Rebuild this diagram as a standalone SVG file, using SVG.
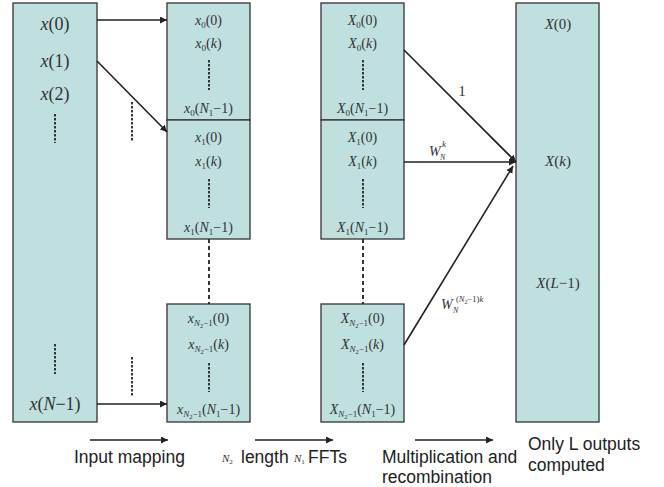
<svg xmlns="http://www.w3.org/2000/svg" width="664" height="487" viewBox="0 0 664 487">
<style>
.box{fill:#bfe0df;stroke:#333;stroke-width:1.3}
.ln{stroke:#222;stroke-width:1.6;fill:none}
.dsh{stroke:#222;stroke-width:1.8;stroke-dasharray:2.5 1.5;fill:none}
.dsh2{stroke:#222;stroke-width:1.8;stroke-dasharray:4 3;fill:none}
.m{font-family:"Liberation Serif",serif;font-size:14px;fill:#333;text-anchor:middle}
.big{font-size:18px}
.i{font-style:italic}
.s{font-size:9px}
.ss{font-size:6.5px}
.lab{font-family:"Liberation Sans",Arial,sans-serif;font-size:17.5px;fill:#222}
</style>
<defs>
<marker id="ah" viewBox="0 0 10 10" refX="10" refY="5" markerWidth="7" markerHeight="7" orient="auto" markerUnits="userSpaceOnUse">
<path d="M0,0 L10,5 L0,10 z" fill="#222"/>
</marker>
</defs>

<g id="input">
<rect class="box" x="13" y="3" width="84" height="419"/>
<text class="m big" x="55" y="30"><tspan class="i">x</tspan>(0)</text>
<text class="m big" x="55" y="67"><tspan class="i">x</tspan>(1)</text>
<text class="m big" x="55" y="100"><tspan class="i">x</tspan>(2)</text>
<line class="dsh" x1="55" y1="114" x2="55" y2="143"/>
<line class="dsh" x1="55" y1="344" x2="55" y2="374"/>
<text class="m big" x="55" y="410"><tspan class="i">x</tspan>(<tspan class="i">N</tspan>−1)</text>
</g>

<g id="map0">
<rect class="box" x="167" y="3" width="83" height="117"/>
<text class="m" x="208.5" y="25"><tspan class="i">x</tspan><tspan class="s" dy="3">0</tspan><tspan dy="-3">(0)</tspan></text>
<text class="m" x="208.5" y="48"><tspan class="i">x</tspan><tspan class="s" dy="3">0</tspan><tspan dy="-3">(</tspan><tspan class="i">k</tspan>)</text>
<line class="dsh" x1="209" y1="60" x2="209" y2="90"/>
<text class="m" x="208.5" y="113"><tspan class="i">x</tspan><tspan class="s" dy="3">0</tspan><tspan dy="-3">(</tspan><tspan class="i">N</tspan><tspan class="s" dy="3">1</tspan><tspan dy="-3">−1)</tspan></text>
</g>
<g id="map1">
<rect class="box" x="167" y="120" width="83" height="119"/>
<text class="m" x="208.5" y="142"><tspan class="i">x</tspan><tspan class="s" dy="3">1</tspan><tspan dy="-3">(0)</tspan></text>
<text class="m" x="208.5" y="166"><tspan class="i">x</tspan><tspan class="s" dy="3">1</tspan><tspan dy="-3">(</tspan><tspan class="i">k</tspan>)</text>
<line class="dsh" x1="209" y1="179" x2="209" y2="208"/>
<text class="m" x="208.5" y="232"><tspan class="i">x</tspan><tspan class="s" dy="3">1</tspan><tspan dy="-3">(</tspan><tspan class="i">N</tspan><tspan class="s" dy="3">1</tspan><tspan dy="-3">−1)</tspan></text>
</g>
<g id="mapN">
<rect class="box" x="167" y="304" width="83" height="118"/>
<text class="m" x="208.5" y="323"><tspan class="i">x</tspan><tspan class="s i" dy="3">N</tspan><tspan class="ss" dy="2">2</tspan><tspan class="s" dy="-2">−1</tspan><tspan dy="-3">(0)</tspan></text>
<text class="m" x="208.5" y="349"><tspan class="i">x</tspan><tspan class="s i" dy="3">N</tspan><tspan class="ss" dy="2">2</tspan><tspan class="s" dy="-2">−1</tspan><tspan dy="-3">(</tspan><tspan class="i">k</tspan>)</text>
<line class="dsh" x1="209" y1="363" x2="209" y2="392"/>
<text class="m" x="208.5" y="414"><tspan class="i">x</tspan><tspan class="s i" dy="3">N</tspan><tspan class="ss" dy="2">2</tspan><tspan class="s" dy="-2">−1</tspan><tspan dy="-3">(</tspan><tspan class="i">N</tspan><tspan class="s" dy="3">1</tspan><tspan dy="-3">−1)</tspan></text>
</g>

<g id="fft0">
<rect class="box" x="321" y="3" width="83" height="117"/>
<text class="m" x="362.5" y="25"><tspan class="i">X</tspan><tspan class="s" dy="3">0</tspan><tspan dy="-3">(0)</tspan></text>
<text class="m" x="362.5" y="48"><tspan class="i">X</tspan><tspan class="s" dy="3">0</tspan><tspan dy="-3">(</tspan><tspan class="i">k</tspan>)</text>
<line class="dsh" x1="363" y1="60" x2="363" y2="90"/>
<text class="m" x="362.5" y="113"><tspan class="i">X</tspan><tspan class="s" dy="3">0</tspan><tspan dy="-3">(</tspan><tspan class="i">N</tspan><tspan class="s" dy="3">1</tspan><tspan dy="-3">−1)</tspan></text>
</g>
<g id="fft1">
<rect class="box" x="321" y="120" width="83" height="119"/>
<text class="m" x="362.5" y="142"><tspan class="i">X</tspan><tspan class="s" dy="3">1</tspan><tspan dy="-3">(0)</tspan></text>
<text class="m" x="362.5" y="166"><tspan class="i">X</tspan><tspan class="s" dy="3">1</tspan><tspan dy="-3">(</tspan><tspan class="i">k</tspan>)</text>
<line class="dsh" x1="363" y1="179" x2="363" y2="208"/>
<text class="m" x="362.5" y="232"><tspan class="i">X</tspan><tspan class="s" dy="3">1</tspan><tspan dy="-3">(</tspan><tspan class="i">N</tspan><tspan class="s" dy="3">1</tspan><tspan dy="-3">−1)</tspan></text>
</g>
<g id="fftN">
<rect class="box" x="321" y="304" width="83" height="118"/>
<text class="m" x="362.5" y="323"><tspan class="i">X</tspan><tspan class="s i" dy="3">N</tspan><tspan class="ss" dy="2">2</tspan><tspan class="s" dy="-2">−1</tspan><tspan dy="-3">(0)</tspan></text>
<text class="m" x="362.5" y="349"><tspan class="i">X</tspan><tspan class="s i" dy="3">N</tspan><tspan class="ss" dy="2">2</tspan><tspan class="s" dy="-2">−1</tspan><tspan dy="-3">(</tspan><tspan class="i">k</tspan>)</text>
<line class="dsh" x1="363" y1="363" x2="363" y2="392"/>
<text class="m" x="362.5" y="414"><tspan class="i">X</tspan><tspan class="s i" dy="3">N</tspan><tspan class="ss" dy="2">2</tspan><tspan class="s" dy="-2">−1</tspan><tspan dy="-3">(</tspan><tspan class="i">N</tspan><tspan class="s" dy="3">1</tspan><tspan dy="-3">−1)</tspan></text>
</g>

<g id="output">
<rect class="box" x="516" y="3" width="83" height="419"/>
<text class="m" x="558" y="29" style="font-size:15px"><tspan class="i">X</tspan>(0)</text>
<text class="m" x="558" y="166" style="font-size:15px"><tspan class="i">X</tspan>(<tspan class="i">k</tspan>)</text>
<text class="m" x="558" y="288" style="font-size:15px"><tspan class="i">X</tspan>(<tspan class="i">L</tspan>−1)</text>
</g>

<g id="connectors">
<line class="ln" x1="97" y1="20" x2="167" y2="20" marker-end="url(#ah)"/>
<line class="ln" x1="97" y1="61" x2="167" y2="132" marker-end="url(#ah)"/>
<line class="ln" x1="97" y1="404" x2="167" y2="404" marker-end="url(#ah)"/>
<line class="dsh" x1="132" y1="102" x2="132" y2="142"/>
<line class="dsh" x1="132" y1="357" x2="132" y2="396"/>
<line class="dsh2" x1="209" y1="239" x2="209" y2="304"/>
<line class="dsh2" x1="363" y1="239" x2="363" y2="304"/>
<line class="ln" x1="404" y1="50" x2="516" y2="162" marker-end="url(#ah)"/>
<line class="ln" x1="404" y1="162" x2="516" y2="162" marker-end="url(#ah)"/>
<line class="ln" x1="404" y1="345" x2="513" y2="166" marker-end="url(#ah)"/>
<text class="m" x="462" y="96" style="font-size:15px">1</text>
<text x="429" y="156" style="font-family:'Liberation Serif',serif;font-size:14px;font-style:italic;fill:#333">W</text>
<text x="442" y="147" style="font-family:'Liberation Serif',serif;font-size:9px;font-style:italic;fill:#333">k</text>
<text x="440" y="160" style="font-family:'Liberation Serif',serif;font-size:8px;font-style:italic;fill:#333">N</text>
<text x="441" y="309" style="font-family:'Liberation Serif',serif;font-size:14px;font-style:italic;fill:#333">W</text>
<text x="456" y="302" style="font-family:'Liberation Serif',serif;font-size:8.5px;fill:#333">(<tspan font-style="italic">N</tspan><tspan font-size="6" dy="1.5">2</tspan><tspan dy="-1.5">−1)</tspan><tspan font-style="italic">k</tspan></text>
<text x="453" y="313" style="font-family:'Liberation Serif',serif;font-size:8px;font-style:italic;fill:#333">N</text>
<line class="ln" x1="90" y1="440" x2="168" y2="440" marker-end="url(#ah)"/>
<line class="ln" x1="255" y1="440" x2="333" y2="440" marker-end="url(#ah)"/>
<line class="ln" x1="415" y1="440" x2="493" y2="440" marker-end="url(#ah)"/>
</g>

<g id="labels">
<text class="lab" x="74" y="463">Input mapping</text>
<text x="222" y="462" style="font-family:'Liberation Serif',serif;font-size:11px;font-style:italic;fill:#333">N<tspan font-size="7" font-style="normal" dy="2">2</tspan></text>
<text class="lab" x="241" y="463">length</text>
<text x="294" y="462" style="font-family:'Liberation Serif',serif;font-size:11px;font-style:italic;fill:#333">N<tspan font-size="7" font-style="normal" dy="2">1</tspan></text>
<text class="lab" x="308" y="463">FFTs</text>
<text class="lab" x="382" y="463">Multiplication and</text>
<text class="lab" x="382" y="483">recombination</text>
<text class="lab" x="528" y="450">Only L outputs</text>
<text class="lab" x="528" y="471">computed</text>
</g>
</svg>
